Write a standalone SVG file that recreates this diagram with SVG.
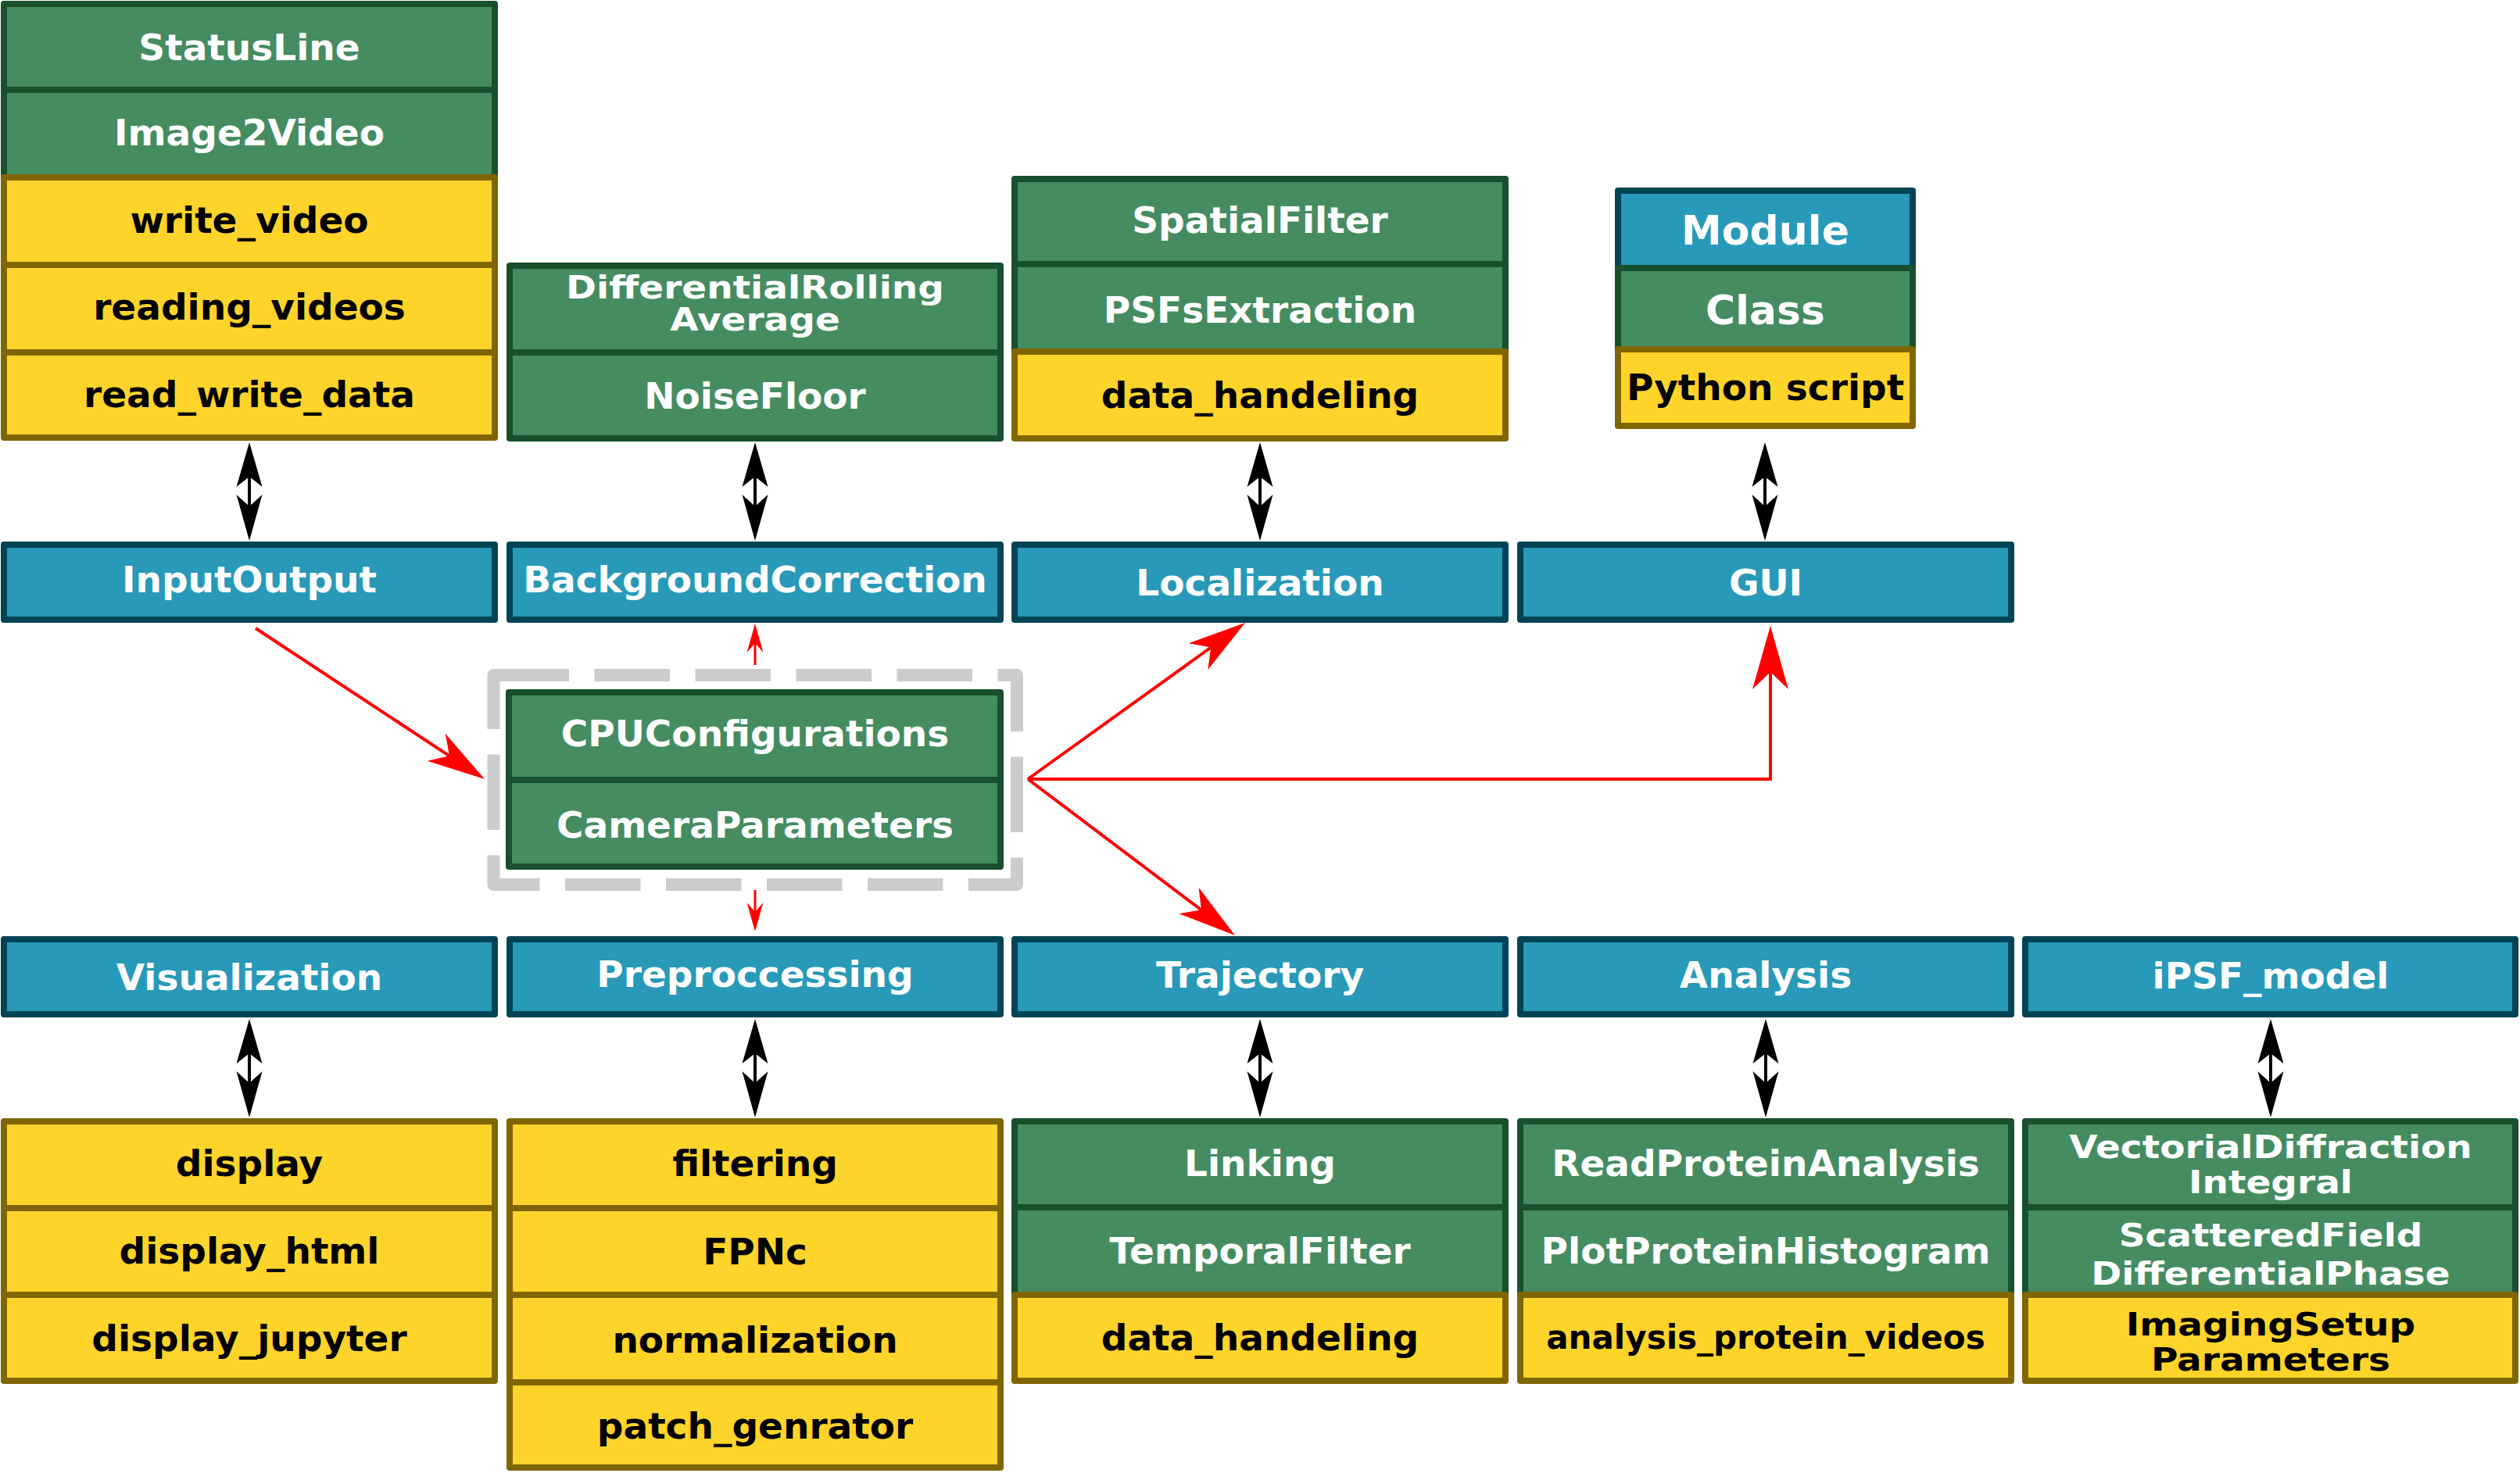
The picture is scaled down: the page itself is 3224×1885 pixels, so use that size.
<svg xmlns="http://www.w3.org/2000/svg" width="3224" height="1885" viewBox="0 0 3224 1885">
<style>
.b{fill:#2899b8;stroke:#004455;stroke-width:8;stroke-linejoin:round}
.g{fill:#458c60;stroke:#18502e;stroke-width:8;stroke-linejoin:round}
.y{fill:#ffd42a;stroke:#806600;stroke-width:8;stroke-linejoin:round}
text{font-family:"DejaVu Sans",Verdana,sans-serif;font-weight:bold;font-size:47px;text-anchor:middle}
.w{fill:#ffffff}
.k{fill:#000000}
.red{fill:none;stroke:#ff0000;stroke-width:4}
.reds{fill:none;stroke:#ff0000;stroke-width:3}
.dash{fill:none;stroke:#cccccc;stroke-width:16;stroke-dasharray:96.5 32.5;stroke-linejoin:round}
</style>
<defs>
<marker id="ah" viewBox="-40 -30 120 60" markerWidth="120" markerHeight="60" refX="0" refY="0" orient="auto" markerUnits="userSpaceOnUse"><path d="M54,0 L-20,-21 L0,0 L-20,21 Z" fill="#ff0000"/></marker>
<marker id="ahL" viewBox="-40 -30 120 60" markerWidth="120" markerHeight="60" refX="0" refY="0" orient="auto" markerUnits="userSpaceOnUse"><path d="M59,0 L-22,-23 L0,0 L-22,23 Z" fill="#ff0000"/></marker>
<marker id="ahS" viewBox="-20 -15 60 30" markerWidth="60" markerHeight="30" refX="0" refY="0" orient="auto" markerUnits="userSpaceOnUse"><path d="M25,0 L-12,-10.5 L0,0 L-12,10.5 Z" fill="#ff0000"/></marker>
<g id="dbl"><path d="M0,0 L16.5,57 L0,44 L-16.5,57 Z M0,126 L16.5,67 L0,82 L-16.5,67 Z" fill="#000"/><path d="M0,44 V82" stroke="#000" stroke-width="4"/></g>
</defs>

<!-- top column 1 -->
<g id="n-statusline"><rect class="g" x="5" y="5" width="628" height="110"/><text class="w" x="319" y="77">StatusLine</text></g>
<g id="n-image2video"><rect class="g" x="5" y="115" width="628" height="112"/><text class="w" x="319" y="186">Image2Video</text></g>
<g id="n-write_video"><rect class="y" x="5" y="227" width="628" height="112"/><text class="k" x="319" y="298">write_video</text></g>
<g id="n-reading_videos"><rect class="y" x="5" y="339" width="628" height="112"/><text class="k" x="319" y="409">reading_videos</text></g>
<g id="n-read_write_data"><rect class="y" x="5" y="451" width="628" height="109"/><text class="k" x="319" y="521">read_write_data</text></g>

<!-- top column 2 -->
<g id="n-differentialrolling"><rect class="g" x="652" y="340" width="628" height="111"/><text class="w" transform="translate(966 381.6) scale(1 .85)"><tspan x="0" y="0">DifferentialRolling</tspan><tspan x="0" y="48.7">Average</tspan></text></g>
<g id="n-noisefloor"><rect class="g" x="652" y="451" width="628" height="110"/><text class="w" x="966" y="523">NoiseFloor</text></g>

<!-- top column 3 -->
<g id="n-spatialfilter"><rect class="g" x="1298" y="229" width="628" height="109"/><text class="w" x="1612" y="298">SpatialFilter</text></g>
<g id="n-psfsextraction"><rect class="g" x="1298" y="338" width="628" height="112"/><text class="w" x="1612" y="413">PSFsExtraction</text></g>
<g id="n-data_handeling-top"><rect class="y" x="1298" y="450" width="628" height="111"/><text class="k" x="1612" y="522">data_handeling</text></g>

<!-- legend -->
<g id="n-legend-module"><rect class="b" x="2070" y="244" width="377" height="99"/><text class="w" x="2258.5" y="313" style="font-size:52px">Module</text></g>
<g id="n-legend-class"><rect class="g" x="2070" y="343" width="377" height="104"/><text class="w" x="2258.5" y="415" style="font-size:52px">Class</text></g>
<g id="n-legend-script"><rect class="y" x="2070" y="447" width="377" height="98"/><text class="k" x="2258.5" y="512">Python script</text></g>

<!-- module row 1 -->
<g id="n-inputoutput"><rect class="b" x="5" y="697" width="628" height="96"/><text class="w" x="319" y="758">InputOutput</text></g>
<g id="n-backgroundcorrection"><rect class="b" x="652" y="697" width="628" height="96"/><text class="w" x="966" y="758">BackgroundCorrection</text></g>
<g id="n-localization"><rect class="b" x="1298" y="697" width="628" height="96"/><text class="w" x="1612" y="762">Localization</text></g>
<g id="n-gui"><rect class="b" x="1945" y="697" width="628" height="96"/><text class="w" x="2259" y="762">GUI</text></g>

<!-- configuration group -->
<g id="n-config-group"><rect class="dash" x="631.5" y="864" width="669.5" height="268"/></g>
<g id="n-cpuconfigurations"><rect class="g" x="651" y="886" width="629" height="112"/><text class="w" x="966" y="955">CPUConfigurations</text></g>
<g id="n-cameraparameters"><rect class="g" x="651" y="998" width="629" height="111"/><text class="w" x="966" y="1072">CameraParameters</text></g>

<!-- module row 2 -->
<g id="n-visualization"><rect class="b" x="5" y="1202" width="628" height="96"/><text class="w" x="319" y="1267">Visualization</text></g>
<g id="n-preproccessing"><rect class="b" x="652" y="1202" width="628" height="96"/><text class="w" x="966" y="1263">Preproccessing</text></g>
<g id="n-trajectory"><rect class="b" x="1298" y="1202" width="628" height="96"/><text class="w" x="1612" y="1264">Trajectory</text></g>
<g id="n-analysis"><rect class="b" x="1945" y="1202" width="628" height="96"/><text class="w" x="2259" y="1264">Analysis</text></g>
<g id="n-ipsf_model"><rect class="b" x="2591" y="1202" width="627" height="96"/><text class="w" x="2905" y="1265">iPSF_model</text></g>

<!-- bottom column 1 -->
<g id="n-display"><rect class="y" x="5" y="1435" width="628" height="111"/><text class="k" x="319" y="1505">display</text></g>
<g id="n-display_html"><rect class="y" x="5" y="1546" width="628" height="111"/><text class="k" x="319" y="1617">display_html</text></g>
<g id="n-display_jupyter"><rect class="y" x="5" y="1657" width="628" height="110"/><text class="k" x="319" y="1729">display_jupyter</text></g>

<!-- bottom column 2 -->
<g id="n-filtering"><rect class="y" x="652" y="1435" width="628" height="111"/><text class="k" x="966" y="1505">filtering</text></g>
<g id="n-fpnc"><rect class="y" x="652" y="1546" width="628" height="111"/><text class="k" x="966" y="1618">FPNc</text></g>
<g id="n-normalization"><rect class="y" x="652" y="1657" width="628" height="112"/><text class="k" x="966" y="1731">normalization</text></g>
<g id="n-patch_genrator"><rect class="y" x="652" y="1769" width="628" height="109"/><text class="k" x="966" y="1841">patch_genrator</text></g>

<!-- bottom column 3 -->
<g id="n-linking"><rect class="g" x="1298" y="1435" width="628" height="110"/><text class="w" x="1612" y="1505">Linking</text></g>
<g id="n-temporalfilter"><rect class="g" x="1298" y="1545" width="628" height="112"/><text class="w" x="1612" y="1617">TemporalFilter</text></g>
<g id="n-data_handeling-bottom"><rect class="y" x="1298" y="1657" width="628" height="110"/><text class="k" x="1612" y="1728">data_handeling</text></g>

<!-- bottom column 4 -->
<g id="n-readproteinanalysis"><rect class="g" x="1945" y="1435" width="628" height="110"/><text class="w" x="2259" y="1505">ReadProteinAnalysis</text></g>
<g id="n-plotproteinhistogram"><rect class="g" x="1945" y="1545" width="628" height="112"/><text class="w" x="2259" y="1617">PlotProteinHistogram</text></g>
<g id="n-analysis_protein_videos"><rect class="y" x="1945" y="1657" width="628" height="110"/><text class="k" x="2259" y="1726" style="font-size:42px">analysis_protein_videos</text></g>

<!-- bottom column 5 -->
<g id="n-vectorialdiffraction"><rect class="g" x="2591" y="1435" width="627" height="110"/><text class="w" transform="translate(2905 1482) scale(1 .87)"><tspan x="0" y="0">VectorialDiffraction</tspan><tspan x="0" y="52.3">Integral</tspan></text></g>
<g id="n-scatteredfield"><rect class="g" x="2591" y="1545" width="627" height="112"/><text class="w" transform="translate(2905 1595) scale(1 .87)"><tspan x="0" y="0">ScatteredField</tspan><tspan x="0" y="56.3">DifferentialPhase</tspan></text></g>
<g id="n-imagingsetup"><rect class="y" x="2591" y="1657" width="627" height="110"/><text class="k" transform="translate(2905 1709) scale(1 .87)"><tspan x="0" y="0">ImagingSetup</tspan><tspan x="0" y="51.7">Parameters</tspan></text></g>

<!-- connectors -->
<g id="connectors">
<use href="#dbl" transform="translate(319 566)"/>
<use href="#dbl" transform="translate(966 566)"/>
<use href="#dbl" transform="translate(1612 566)"/>
<use href="#dbl" transform="translate(2258 566)"/>
<use href="#dbl" transform="translate(319 1304)"/>
<use href="#dbl" transform="translate(966 1304)"/>
<use href="#dbl" transform="translate(1612 1304)"/>
<use href="#dbl" transform="translate(2259 1304)"/>
<use href="#dbl" transform="translate(2905 1304)"/>
<path class="red" d="M327,804 L574.9,967.3" marker-end="url(#ah)"/>
<path class="red" d="M1315,997 L1549.2,828.5" marker-end="url(#ah)"/>
<path class="red" d="M1315,997 L1536.9,1164.5" marker-end="url(#ah)"/>
<path class="red" d="M1315,997 H2265 V860" marker-end="url(#ahL)"/>
<path class="reds" d="M966,851 V823" marker-end="url(#ahS)"/>
<path class="reds" d="M966,1139 V1167" marker-end="url(#ahS)"/>
</g>
</svg>
